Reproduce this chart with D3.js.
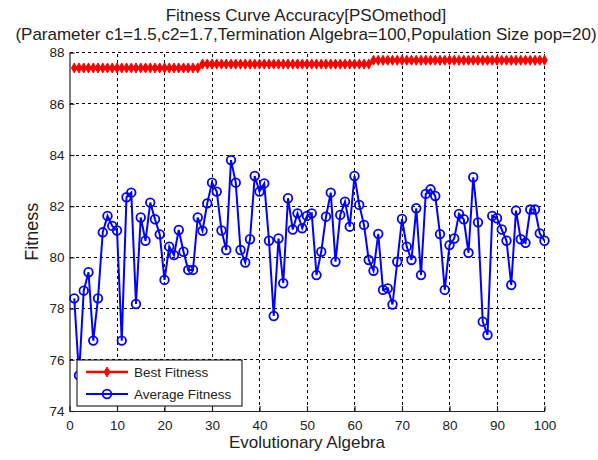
<!DOCTYPE html>
<html>
<head>
<meta charset="utf-8">
<script src="https://cdn.jsdelivr.net/npm/d3@7"></script>
<style>
  body { margin: 0; background: #fff; }
  svg { font-family: "Liberation Sans", Arial, sans-serif; }
</style>
</head>
<body>
<svg id="chart" width="598" height="460"></svg>
<script>
// Data
const generations = d3.range(1, 101);
const averageFitness = [
    78.40, 75.39, 78.70, 79.42, 76.75, 78.40, 80.98, 81.62, 81.23, 81.05,
    76.75, 82.35, 82.53, 78.18, 81.56, 80.65, 82.14, 81.49, 80.90, 79.12,
    80.42, 80.09, 81.07, 80.22, 79.51, 79.51, 81.56, 81.04, 82.11, 82.92,
    82.57, 81.05, 80.29, 83.80, 82.92, 80.29, 79.80, 80.71, 83.18, 82.57,
    82.89, 80.65, 77.71, 80.74, 78.99, 82.31, 81.09, 81.72, 81.14, 81.62,
    81.72, 79.31, 80.22, 81.59, 82.53, 79.83, 81.66, 82.18, 81.20, 83.18,
    82.05, 81.27, 79.90, 79.48, 80.92, 78.73, 78.79, 78.16, 79.83, 81.50,
    80.42, 79.90, 81.92, 79.31, 82.48, 82.66, 82.40, 80.91, 78.73, 80.48,
    80.74, 81.70, 81.49, 80.18, 83.13, 81.37, 77.49, 76.97, 81.62, 81.53,
    81.09, 80.65, 78.92, 81.83, 80.71, 80.57, 81.87, 81.87, 80.94, 80.65
];
const bestFitness = generations.map(g => g <= 27 ? 87.4 : (g <= 63 ? 87.55 : 87.7));
const xTicks = d3.range(0, 101, 10);
const yTicks = d3.range(74, 89, 2);
const titleLines = [
    "Fitness Curve Accuracy[PSOmethod]",
    "(Parameter c1=1.5,c2=1.7,Termination Algebra=100,Population Size pop=20)"
];
const legendLabels = ["Best Fitness", "Average Fitness"];

// Layout
const margin = { left: 69.5, right: 53.5, top: 52.6, bottom: 49 };
const width = 598, height = 460;
const svg = d3.select("#chart");

const x = d3.scaleLinear().domain([0, 100]).range([margin.left, width - margin.right]);
const y = d3.scaleLinear().domain([74, 88]).range([height - margin.bottom, margin.top]);

// Grid
const grid = svg.append("g").attr("stroke", "#000").attr("stroke-width", 1)
    .attr("stroke-dasharray", "3,3").attr("shape-rendering", "crispEdges");
grid.selectAll(".gx").data(xTicks.slice(1)).enter().append("line")
    .attr("x1", d => x(d)).attr("x2", d => x(d))
    .attr("y1", y(74)).attr("y2", y(88));
grid.selectAll(".gy").data(yTicks.slice(1)).enter().append("line")
    .attr("x1", x(0)).attr("x2", x(100))
    .attr("y1", d => y(d)).attr("y2", d => y(d));

// Axes
const xAxis = svg.append("g").attr("transform", `translate(0,${y(74)})`)
    .call(d3.axisBottom(x).tickValues(xTicks).tickSizeInner(-5).tickSizeOuter(0).tickPadding(9));
const yAxis = svg.append("g").attr("transform", `translate(${x(0)},0)`)
    .call(d3.axisLeft(y).tickValues(yTicks).tickSizeInner(-5).tickSizeOuter(0).tickPadding(5));
[xAxis, yAxis].forEach(a => {
    a.selectAll("path, line").attr("stroke", "#222").attr("stroke-width", 1.2);
    a.selectAll("text").attr("font-size", 13.5).attr("fill", "#222")
        .attr("font-family", "'Liberation Sans', Arial, sans-serif");
});

// Best fitness line
const lineFit = d3.line().x((d, i) => x(generations[i])).y(d => y(d));
svg.append("path").datum(bestFitness)
    .attr("fill", "none").attr("stroke", "#ff0000").attr("stroke-width", 2.5)
    .attr("d", lineFit);
const diamond = "M0,-5L2.8,0L0,5L-2.8,0Z";
svg.append("g").selectAll("path").data(bestFitness).enter().append("path")
    .attr("d", diamond)
    .attr("transform", (d, i) => `translate(${x(generations[i])},${y(d)})`)
    .attr("fill", "#ff0000").attr("stroke", "#ff0000").attr("stroke-width", 1);

// Average fitness line
svg.append("path").datum(averageFitness)
    .attr("fill", "none").attr("stroke", "#0000ff").attr("stroke-width", 2)
    .attr("d", lineFit);
svg.append("g").selectAll("circle").data(averageFitness).enter().append("circle")
    .attr("cx", (d, i) => x(generations[i])).attr("cy", d => y(d)).attr("r", 4.3)
    .attr("fill", "none").attr("stroke", "#0000ff").attr("stroke-width", 1.8);

// Legend
const lg = svg.append("g").attr("transform", "translate(77,360)");
lg.append("rect").attr("width", 165).attr("height", 46)
    .attr("fill", "#fff").attr("stroke", "#000").attr("stroke-width", 1);
const legendColors = ["#ff0000", "#0000ff"];
legendLabels.forEach((lab, i) => {
    const ly = 12 + i * 22;
    lg.append("line").attr("x1", 9).attr("x2", 51).attr("y1", ly).attr("y2", ly)
        .attr("stroke", legendColors[i]).attr("stroke-width", i === 0 ? 2.5 : 2);
    if (i === 0) {
        lg.append("path").attr("d", diamond).attr("transform", `translate(30,${ly})`)
            .attr("fill", "#ff0000").attr("stroke", "#ff0000");
    } else {
        lg.append("circle").attr("cx", 30).attr("cy", ly).attr("r", 4.3)
            .attr("fill", "none").attr("stroke", "#0000ff").attr("stroke-width", 1.8);
    }
    lg.append("text").attr("x", 57).attr("y", ly).attr("dy", "0.35em")
        .attr("font-size", 13.5).attr("fill", "#222").text(lab);
});

// Titles
svg.append("g").selectAll("text").data(titleLines).enter().append("text")
    .attr("x", 306).attr("y", (d, i) => 21 + i * 19)
    .attr("text-anchor", "middle").attr("font-size", 17).attr("fill", "#222")
    .text(d => d);

svg.append("text").attr("x", x(50)).attr("y", 448)
    .attr("text-anchor", "middle").attr("font-size", 17).attr("fill", "#222")
    .text("Evolutionary Algebra");

svg.append("text").attr("transform", `translate(38,${y(81)}) rotate(-90)`)
    .attr("text-anchor", "middle").attr("font-size", 18).attr("fill", "#222")
    .text("Fitness");
</script>
</body>
</html>
